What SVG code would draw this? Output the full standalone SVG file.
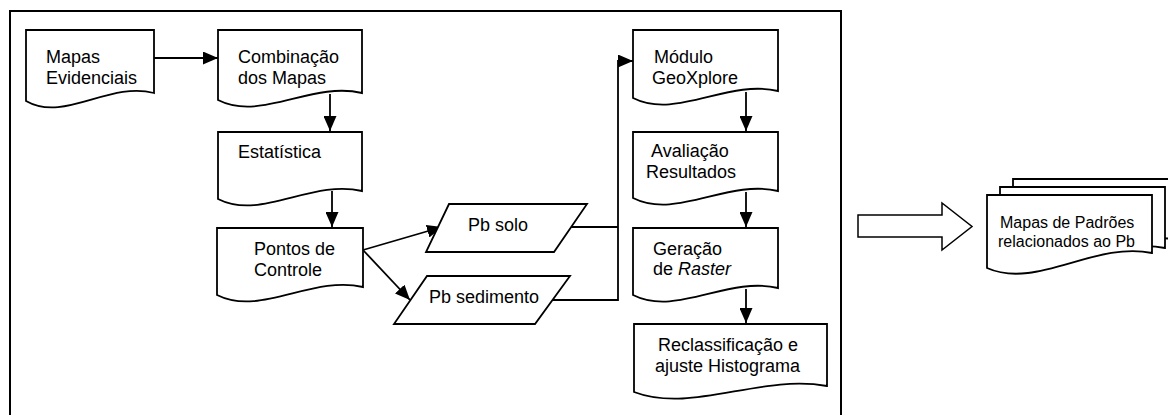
<svg xmlns="http://www.w3.org/2000/svg" width="1168" height="415" viewBox="0 0 1168 415">
  <style>
    .doc { fill: #ffffff; stroke: #000000; stroke-width: 1.8; stroke-linejoin: miter; }
    .io { fill: #ffffff; stroke: #000000; stroke-width: 1.8; }
    .lbl { font-family: "Liberation Sans", Arial, sans-serif; font-size: 18px; fill: #000000; }
    .lbl-sm { font-family: "Liberation Sans", Arial, sans-serif; font-size: 16px; fill: #000000; }
    .edge { fill: none; stroke: #000000; stroke-width: 1.8; }
  </style>
  <defs>
    <marker id="arrow" markerUnits="userSpaceOnUse" markerWidth="16" markerHeight="13" refX="15" refY="6.5" orient="auto">
      <path d="M0,0 L15,6.5 L0,13 Z" fill="#000000"/>
    </marker>
  </defs>

  <rect width="1168" height="415" fill="#ffffff"/>

  <!-- process frame -->
  <rect id="frame" x="10" y="11" width="831" height="410" fill="none" stroke="#000000" stroke-width="2"/>

  <!-- connectors -->
  <g id="connectors">
    <line class="edge" x1="154" y1="58" x2="218" y2="58" marker-end="url(#arrow)"/>
    <line class="edge" x1="330" y1="94" x2="330" y2="131" marker-end="url(#arrow)"/>
    <line class="edge" x1="332" y1="191" x2="332" y2="227" marker-end="url(#arrow)"/>
    <line class="edge" x1="363" y1="250" x2="442" y2="227" marker-end="url(#arrow)"/>
    <line class="edge" x1="363" y1="250" x2="410" y2="300" marker-end="url(#arrow)"/>
    <polyline class="edge" points="570,227 618,227"/>
    <polyline class="edge" points="547,300 618,300 618,61 633,61" marker-end="url(#arrow)"/>
    <line class="edge" x1="746" y1="92" x2="746" y2="131" marker-end="url(#arrow)"/>
    <line class="edge" x1="746" y1="192" x2="746" y2="227" marker-end="url(#arrow)"/>
    <line class="edge" x1="746" y1="289" x2="746" y2="323" marker-end="url(#arrow)"/>
  </g>

  <g id="mapas-evidenciais">
    <path class="doc" d="M26,30 H154 V93 C109.2,81 64.4,123 26,101 Z"/>
    <text class="lbl" x="46" y="63">Mapas</text>
    <text class="lbl" x="46" y="84">Evidenciais</text>
  </g>

  <g id="combinacao">
    <path class="doc" d="M218,30 H362 V93 C311.6,81 261.2,122 218,100 Z"/>
    <text class="lbl" x="238" y="63">Combinação</text>
    <text class="lbl" x="238" y="84">dos Mapas</text>
  </g>

  <g id="estatistica">
    <path class="doc" d="M218,132 H362 V191 C311.6,179 261.2,221 218,199 Z"/>
    <text class="lbl" x="238" y="158">Estatística</text>
  </g>

  <g id="pontos-controle">
    <path class="doc" d="M217,228 H363 V287 C311.9,275 260.8,317 217,295 Z"/>
    <text class="lbl" x="254" y="255">Pontos de</text>
    <text class="lbl" x="254" y="276">Controle</text>
  </g>

  <g id="pb-solo">
    <polygon class="io" points="449,204 587,204 554,252 426,252"/>
    <text class="lbl" x="468" y="231">Pb solo</text>
  </g>

  <g id="pb-sedimento">
    <polygon class="io" points="427,276 570,276 535,324 394,324"/>
    <text class="lbl" x="429" y="303">Pb sedimento</text>
  </g>

  <g id="modulo-geoxplore">
    <path class="doc" d="M633,30 H778 V91 C727.25,79 676.5,120 633,98 Z"/>
    <text class="lbl" x="654" y="63">Módulo</text>
    <text class="lbl" x="652" y="84">GeoXplore</text>
  </g>

  <g id="avaliacao">
    <path class="doc" d="M633,132 H778 V191 C727.25,179 676.5,220 633,198 Z"/>
    <text class="lbl" x="651" y="157">Avaliação</text>
    <text class="lbl" x="646" y="178">Resultados</text>
  </g>

  <g id="geracao-raster">
    <path class="doc" d="M633,228 H778 V288 C727.25,276 676.5,317 633,295 Z"/>
    <text class="lbl" x="653" y="255">Geração</text>
    <text class="lbl" x="653" y="275">de <tspan font-style="italic">Raster</tspan></text>
  </g>

  <g id="reclassificacao">
    <path class="doc" d="M634,324 H827 V386 C759.45,374 691.9,414 634,392 Z"/>
    <text class="lbl" x="658" y="351">Reclassificação e</text>
    <text class="lbl" x="655" y="372">ajuste Histograma</text>
  </g>

  <!-- result block arrow -->
  <g id="block-arrow">
    <polygon points="858,215 942,215 942,203 972,226.5 942,250 942,237 858,237" fill="#ffffff" stroke="#000000" stroke-width="1.5"/>
  </g>

  <g id="mapas-padroes">
    <path class="doc" d="M1013,179 H1178 V240 C1120.25,228 1062.5,277 1013,255 Z"/>
    <path class="doc" d="M1000,187 H1165 V248 C1107.25,236 1049.5,285 1000,263 Z"/>
    <path class="doc" d="M987,195 H1152 V253 C1094.25,241 1036.5,290 987,268 Z"/>
    <text class="lbl-sm" x="1000" y="228">Mapas de Padrões</text>
    <text class="lbl-sm" x="998" y="247">relacionados ao Pb</text>
  </g>
</svg>
